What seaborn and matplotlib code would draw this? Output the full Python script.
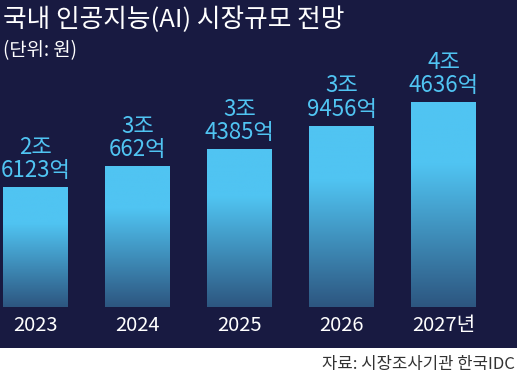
import numpy as np
import matplotlib
matplotlib.use("Agg")
import matplotlib.pyplot as plt
from matplotlib.colors import LinearSegmentedColormap
from matplotlib.patches import Rectangle
import seaborn as sns
import pandas as pd

# ---- data ----
years = ["2023", "2024", "2025", "2026", "2027년"]
values = [2.6123, 3.0662, 3.4385, 3.9456, 4.4636]   # 조 원
label_jo = ["2조", "3조", "3조", "3조", "4조"]
label_eok = ["6123억", "662억", "4385억", "9456억", "4636억"]
title = "국내 인공지능(AI) 시장규모 전망"
subtitle = "(단위: 원)"
source = "자료: 시장조사기관 한국IDC"

sns.set_theme(style="white")
plt.rcParams['font.family'] = ['Noto Sans CJK KR', 'DejaVu Sans']

NAVY = "#181a41"
LIGHT = "#50c4f2"
DARK = "#2d5680"

W, H = 517, 375
fig = plt.figure(figsize=(W / 100, H / 100), dpi=100, facecolor="white")
# navy panel
fig.patches.append(Rectangle((0, (H - 348) / H), 1, 348 / H, transform=fig.transFigure,
                             facecolor=NAVY, edgecolor="none", zorder=-5))

ax = fig.add_axes([0, (H - 307) / H, 1, 307 / H])
ax.set_zorder(2)
ax.set_facecolor("none")
df = pd.DataFrame({"year": years, "value": values})
sns.barplot(data=df, x="year", y="value", color=LIGHT, width=0.637, ax=ax,
            saturation=1, edgecolor="none")

px_per_unit = 205 / 4.4636
ax.axis("off")

cmap = LinearSegmentedColormap.from_list("g", [(0, DARK), (0.7, LIGHT), (1, LIGHT)])
grad = np.linspace(0, 1, 256).reshape(-1, 1)
for p in list(ax.patches):
    x0, y0 = p.get_x(), p.get_y()
    w, h = p.get_width(), p.get_height()
    im = ax.imshow(grad, cmap=cmap, origin="lower", aspect="auto",
                   extent=(x0, x0 + w, y0, y0 + h), zorder=3)
    im.set_clip_path(p)
ax.set_xlim(-35.5 / 102, (W - 35.5) / 102)
ax.set_ylim(0, 307 / px_per_unit)

for i, v in enumerate(values):
    ax.annotate(label_eok[i], (i, v), xytext=(0, 7), textcoords="offset points",
                ha="center", va="baseline", color=LIGHT, fontsize=16,
                annotation_clip=False)
    ax.annotate(label_jo[i], (i, v), xytext=(0, 24), textcoords="offset points",
                ha="center", va="baseline", color=LIGHT, fontsize=16,
                annotation_clip=False)
    ax.annotate(years[i], (i, 0), xytext=(0, -13.5), textcoords="offset points",
                ha="center", va="center", color="white", fontsize=14.5,
                annotation_clip=False)

fig.text(3 / W, 1 - 20 / H, title, color="white", fontsize=18.5, fontweight="medium",
         ha="left", va="center")
fig.text(3 / W, 1 - 51 / H, subtitle, color="white", fontsize=13.5,
         ha="left", va="center")
fig.text(515 / W, 1 - 364 / H, source, color="#333333", fontsize=12,
         ha="right", va="center")

fig.savefig("out.png", dpi=100, facecolor="white")
